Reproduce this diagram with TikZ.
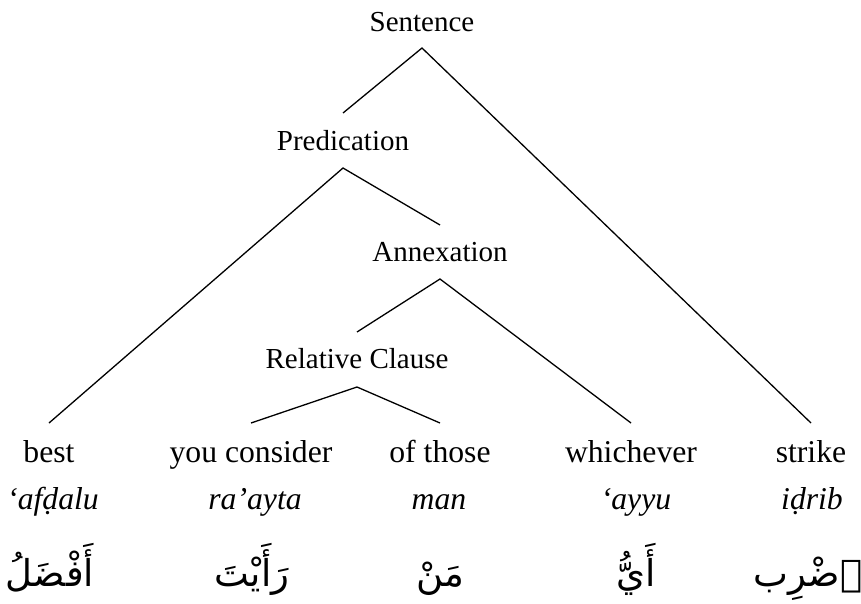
\documentclass[tikz,border=0pt]{standalone}
\usepackage{fontspec}
\setmainfont{Liberation Serif}
\newfontfamily\arabicfont[Script=Arabic]{DejaVu Sans}
\TeXXeTstate=1
\begin{document}
\begin{tikzpicture}[x=1pt,y=-1pt,
  upper/.style={font=\fontsize{29}{32}\selectfont, anchor=base, inner sep=0pt},
  word/.style={font=\fontsize{31.7}{34}\selectfont, anchor=base, inner sep=0pt},
  translit/.style={font=\fontsize{31.7}{34}\selectfont\itshape, anchor=base, inner sep=0pt},
  arab/.style={font=\fontsize{37}{42}\arabicfont, anchor=base, inner sep=0pt},
  branch/.style={line width=1.3pt}]
\useasboundingbox (0,0) rectangle (861,603);
% internal nodes
\node[upper] (S) at (422,31) {Sentence};
\node[upper] (P) at (343,150) {Predication};
\node[upper] (A) at (440,261) {Annexation};
\node[upper] (R) at (357,368) {Relative Clause};
% leaves
\node[word] (w1) at (49,462) {best};
\node[word] (w2) at (251,462) {you consider};
\node[word] (w3) at (440,462) {of those};
\node[word] (w4) at (631,462) {whichever};
\node[word] (w5) at (811,462) {strike};
% transliterations
\node[translit] (t1) at (53,509) {‘afḍalu};
\node[translit] (t2) at (255,509) {ra’ayta};
\node[translit] (t3) at (439,509) {man};
\node[translit] (t4) at (636,509) {‘ayyu};
\node[translit] (t5) at (812,509) {iḍrib};
% Arabic
\node[arab] (a1) at (50,586) {\beginR أَفْضَلُ\endR};
\node[arab] (a2) at (252,586) {\beginR رَأَيْتَ\endR};
\node[arab] (a3) at (440,586) {\beginR مَنْ\endR};
\node[arab] (a4) at (636,586) {\beginR أَيُّ\endR};
\node[arab] (a5) at (808,586) {\beginR ٱضْرِب\endR};
% branches
\draw[branch] ([yshift=37pt]P.base) -- ([yshift=-17pt]S.base) -- ([yshift=39pt]w5.base);
\draw[branch] ([yshift=39pt]w1.base) -- ([yshift=-18pt]P.base) -- ([yshift=36pt]A.base);
\draw[branch] ([yshift=36pt]R.base) -- ([yshift=-18pt]A.base) -- ([yshift=39pt]w4.base);
\draw[branch] ([yshift=39pt]w2.base) -- ([yshift=-19pt]R.base) -- ([yshift=39pt]w3.base);
\end{tikzpicture}
\end{document}
